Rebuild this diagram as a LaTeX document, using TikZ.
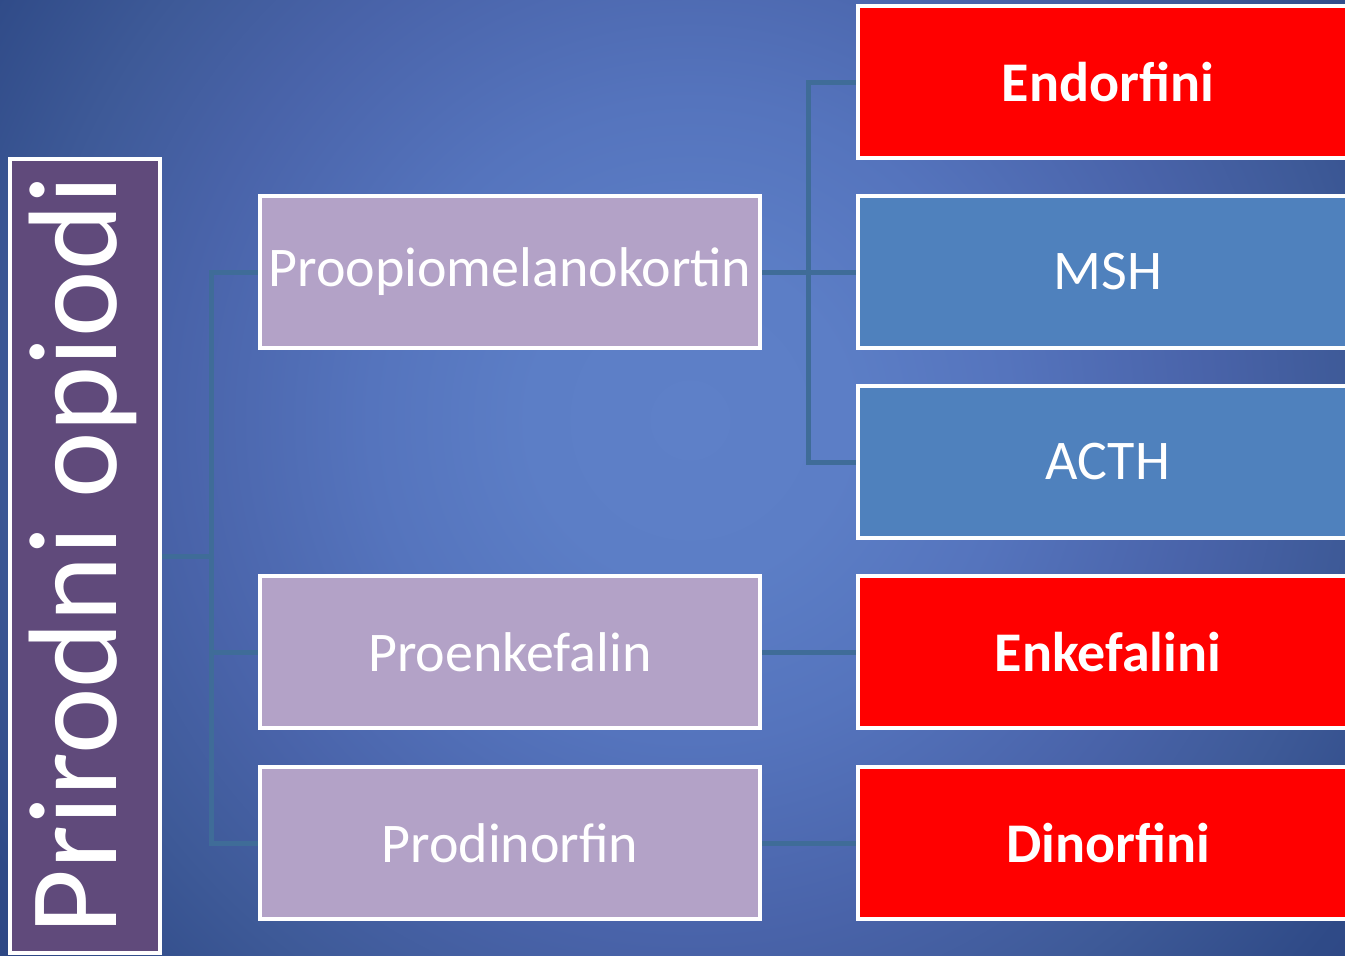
\documentclass[tikz,border=0pt]{standalone}
\usepackage{fontspec}
\setmainfont{Carlito}
\definecolor{bg0}{HTML}{5E80C8}
\definecolor{bg1}{HTML}{5C7EC6}
\definecolor{bg2}{HTML}{5574BD}
\definecolor{bg3}{HTML}{4963A9}
\definecolor{bg4}{HTML}{3E5A98}
\definecolor{bg5}{HTML}{2F4A87}
\definecolor{bg6}{HTML}{2A4280}
\definecolor{lpurple}{HTML}{604A7B}
\definecolor{lav}{HTML}{B3A2C7}
\definecolor{boxblue}{HTML}{4F81BD}
\definecolor{boxred}{HTML}{FF0000}
\definecolor{conn}{HTML}{3F6C98}
\pgfdeclarelayer{bglayer}
\pgfdeclarelayer{lines}
\pgfsetlayers{bglayer,lines,main}
\pgfdeclareradialshading{bgshade}{\pgfpoint{0bp}{0bp}}{color(0bp)=(bg0); color(4bp)=(bg1); color(8bp)=(bg2); color(13bp)=(bg3); color(16.5bp)=(bg4); color(20.5bp)=(bg5); color(25bp)=(bg6); color(50bp)=(bg6)}
\tikzset{
  box/.style={draw=white, line width=4pt, minimum width=500pt, minimum height=152pt, inner sep=0pt, text=white, font=\fontsize{56}{58}\selectfont},
  midbox/.style={box, fill=lav},
  bluebox/.style={box, fill=boxblue},
  redbox/.style={box, fill=boxred, font=\fontsize{56}{58}\selectfont\bfseries},
  conline/.style={draw=conn, line width=5pt}
}
\begin{document}
\begin{tikzpicture}[x=1pt,y=-1pt]
\useasboundingbox (0,0) rectangle (1345,956);
\clip (0,0) rectangle (1345,956);
\begin{pgfonlayer}{bglayer}
\fill[bg6] (0,0) rectangle (1345,956);
\shade[shading=bgshade] (690,420) circle (1000);
\end{pgfonlayer}
% left box
\node[draw=white, line width=4pt, fill=lpurple, minimum width=150pt, minimum height=794pt, inner sep=0pt] (L) at (85,556) {};
\node[rotate=90, text=white, font=\fontsize{126}{126}\selectfont, inner sep=0pt] (LT) at (83,555) {Prirodni opiodi};
% middle boxes
\node[midbox] (P1) at (510,272) {Proopiomelanokortin};
\node[midbox] (P2) at (510,652) {Proenkefalin};
\node[midbox] (P3) at (510,843) {Prodinorfin};
% right boxes
\node[redbox] (R1) at (1108,82) {Endorfini};
\node[bluebox] (R2) at (1108,272) {MSH};
\node[bluebox] (R3) at (1108,462) {ACTH};
\node[redbox] (R4) at (1108,652) {Enkefalini};
\node[redbox] (R5) at (1108,843) {Dinorfini};
% connectors
\begin{pgfonlayer}{lines}
\coordinate (j1) at (211,556);
\coordinate (j2) at (808,272);
\draw[conline] (L.east) -- (j1);
\draw[conline] (j1) |- (P1.west);
\draw[conline] (j1) |- (P2.west);
\draw[conline] (j1) |- (P3.west);
\draw[conline] (P1.east) -- (j2);
\draw[conline] (j2) |- (R1.west);
\draw[conline] (j2) |- (R2.west);
\draw[conline] (j2) |- (R3.west);
\draw[conline] (P2.east) -- (R4.west);
\draw[conline] (P3.east) -- (R5.west);
\end{pgfonlayer}
\end{tikzpicture}
\end{document}
